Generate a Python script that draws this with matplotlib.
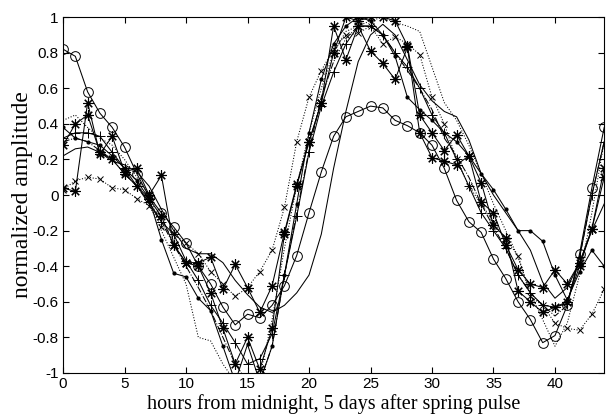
import matplotlib

matplotlib.use("Agg")
import matplotlib.pyplot as plt

hours = list(range(45))

circles = [0.82, 0.78, 0.58, 0.46, 0.38, 0.27, 0.12, -0.01, -0.10, -0.18,
           -0.27, -0.40, -0.50, -0.63, -0.73, -0.67, -0.69, -0.62, -0.51, -0.34,
           -0.10, 0.13, 0.33, 0.44, 0.47, 0.50, 0.49, 0.42, 0.39, 0.35,
           0.28, 0.15, -0.03, -0.15, -0.21, -0.36, -0.47, -0.60, -0.70, -0.83,
           -0.79, -0.62, -0.33, 0.04, 0.38]
stars_a = [0.04, 0.02, 0.52, 0.23, 0.33, 0.13, 0.15, 0.00, 0.11, -0.28,
           -0.38, -0.38, -0.35, -0.53, -0.39, -0.52, -0.66, -0.51, -0.21, 0.06,
           0.30, 0.52, 0.95, 0.76, 0.95, 0.81, 0.74, 0.65, 0.83, 0.35,
           0.21, 0.19, 0.17, 0.22, 0.07, -0.17, -0.24, -0.54, -0.60, -0.66,
           -0.63, -0.60, -0.40, -0.19, 0.10]
stars_b = [0.28, 0.40, 0.45, 0.24, 0.20, 0.12, 0.05, -0.02, -0.12, -0.28,
           -0.38, -0.40, -0.55, -0.75, -0.95, -0.80, -0.98, -0.75, -0.22, 0.05,
           0.30, 0.52, 0.80, 1.00, 0.98, 1.00, 1.00, 0.98, 0.84, 0.45,
           0.35, 0.25, 0.34, 0.22, -0.04, -0.10, -0.28, -0.42, -0.50, -0.52,
           -0.42, -0.50, -0.38, -0.19, 0.15]
crosses = [0.03, 0.08, 0.10, 0.09, 0.04, 0.03, -0.02, -0.06, -0.18, -0.22,
           -0.27, -0.33, -0.43, -0.50, -0.57, -0.52, -0.43, -0.31, -0.07, 0.30,
           0.55, 0.70, 0.82, 0.90, 0.91, 0.95, 0.85, 0.89, 0.85, 0.79,
           0.55, 0.40, 0.20, 0.05, -0.05, -0.15, -0.25, -0.34, -0.57, -0.62,
           -0.72, -0.75, -0.76, -0.67, -0.53]
pluses = [0.32, 0.35, 0.35, 0.33, 0.24, 0.15, 0.05, -0.04, -0.15, -0.22,
          -0.37, -0.48, -0.62, -0.72, -0.83, -0.95, -0.92, -0.78, -0.45, -0.12,
          0.24, 0.50, 0.69, 0.85, 0.95, 0.95, 0.90, 0.80, 0.72, 0.60,
          0.45, 0.35, 0.20, 0.05, -0.10, -0.20, -0.30, -0.45, -0.55, -0.62,
          -0.63, -0.61, -0.35, 0.00, 0.30]
dots = [0.38, 0.32, 0.30, 0.28, 0.22, 0.15, 0.08, -0.02, -0.25, -0.44,
        -0.46, -0.58, -0.65, -0.85, -1.05, -0.84, -1.05, -0.85, -0.45, -0.05,
        0.35, 0.65, 0.85, 0.95, 1.00, 0.98, 0.90, 0.78, 0.55, 0.48,
        0.42, 0.35, 0.30, 0.22, 0.12, 0.03, -0.08, -0.20, -0.20, -0.26,
        -0.45, -0.59, -0.43, -0.31, -0.40]
solid = [0.22, 0.26, 0.27, 0.24, 0.19, 0.17, 0.13, 0.05, -0.08, -0.20,
         -0.30, -0.33, -0.33, -0.38, -0.48, -0.56, -0.63, -0.66, -0.62, -0.55,
         -0.45, -0.22, 0.15, 0.47, 0.75, 0.90, 0.96, 0.90, 0.76, 0.62,
         0.53, 0.47, 0.44, 0.31, 0.12, 0.00, -0.10, -0.20, -0.31, -0.49,
         -0.58, -0.52, -0.38, -0.20, -0.05]
dotted = [0.42, 0.45, 0.38, 0.32, 0.28, 0.20, 0.10, 0.00, -0.20, -0.35,
          -0.50, -0.80, -0.82, -0.95, -1.05, -1.05, -1.02, -0.70, -0.30, 0.05,
          0.35, 0.60, 0.80, 0.92, 0.95, 0.98, 1.00, 0.97, 0.95, 0.92,
          0.72, 0.52, 0.42, 0.28, 0.12, -0.05, -0.20, -0.35, -0.55, -0.70,
          -0.85, -0.72, -0.45, -0.10, 0.30]
dashdot = [0.30, 0.32, 0.30, 0.25, 0.20, 0.12, 0.05, -0.05, -0.15, -0.28,
           -0.40, -0.52, -0.65, -0.80, -0.95, -1.05, -1.05, -0.85, -0.45, -0.10,
           0.25, 0.55, 0.75, 0.88, 0.95, 0.95, 0.90, 0.80, 0.70, 0.60,
           0.48, 0.32, 0.22, 0.10, -0.05, -0.18, -0.30, -0.45, -0.55, -0.62,
           -0.68, -0.62, -0.35, 0.00, 0.30]

x_ticks = [0, 5, 10, 15, 20, 25, 30, 35, 40]
y_ticks = [-1, -0.8, -0.6, -0.4, -0.2, 0, 0.2, 0.4, 0.6, 0.8, 1]
y_labels = ["-1", "-0.8", "-0.6", "-0.4", "-0.2", "0", "0.2", "0.4", "0.6", "0.8", "1"]

fig = plt.figure(figsize=(6.06, 4.19), dpi=100)
ax = fig.add_axes([0.104, 0.110, 0.893, 0.849])

lw = 0.75
asterisk = (8, 2, 0)
ax.plot(hours, circles, "k-", marker="o", ms=7, mfc="none", mew=0.7, lw=lw)
ax.plot(hours, stars_a, "k-", marker=asterisk, ms=7.5, mew=0.8, lw=lw)
ax.plot(hours, stars_b, "k-", marker=asterisk, ms=7.5, mew=0.8, lw=lw)
ax.plot(hours, crosses, "k:", marker="x", ms=5, mew=0.7, lw=lw)
ax.plot(hours, pluses, "k-", marker="+", ms=7, mew=0.7, lw=lw)
ax.plot(hours, dots, "k-", marker=".", ms=4, lw=lw)
ax.plot(hours, solid, "k-", lw=lw)
ax.plot(hours, dotted, "k:", lw=lw)
ax.plot(hours, dashdot, "k-.", lw=lw)

ax.set_xlim(0, 44)
ax.set_ylim(-1, 1)
ax.set_xticks(x_ticks)
ax.set_yticks(y_ticks)
ax.set_yticklabels(y_labels)
ax.tick_params(direction="in", top=True, right=True, length=4, width=0.8,
               labelsize=11, pad=3)
for label in ax.get_xticklabels() + ax.get_yticklabels():
    label.set_family("Liberation Sans")
for spine in ax.spines.values():
    spine.set_linewidth(0.8)

ax.set_xlabel("hours from midnight, 5 days after spring pulse",
              family="Liberation Serif", fontsize=14.5, labelpad=2)
ax.set_ylabel("normalized amplitude", family="Liberation Serif", fontsize=17,
              labelpad=0)

fig.savefig("out.png", dpi=100)
